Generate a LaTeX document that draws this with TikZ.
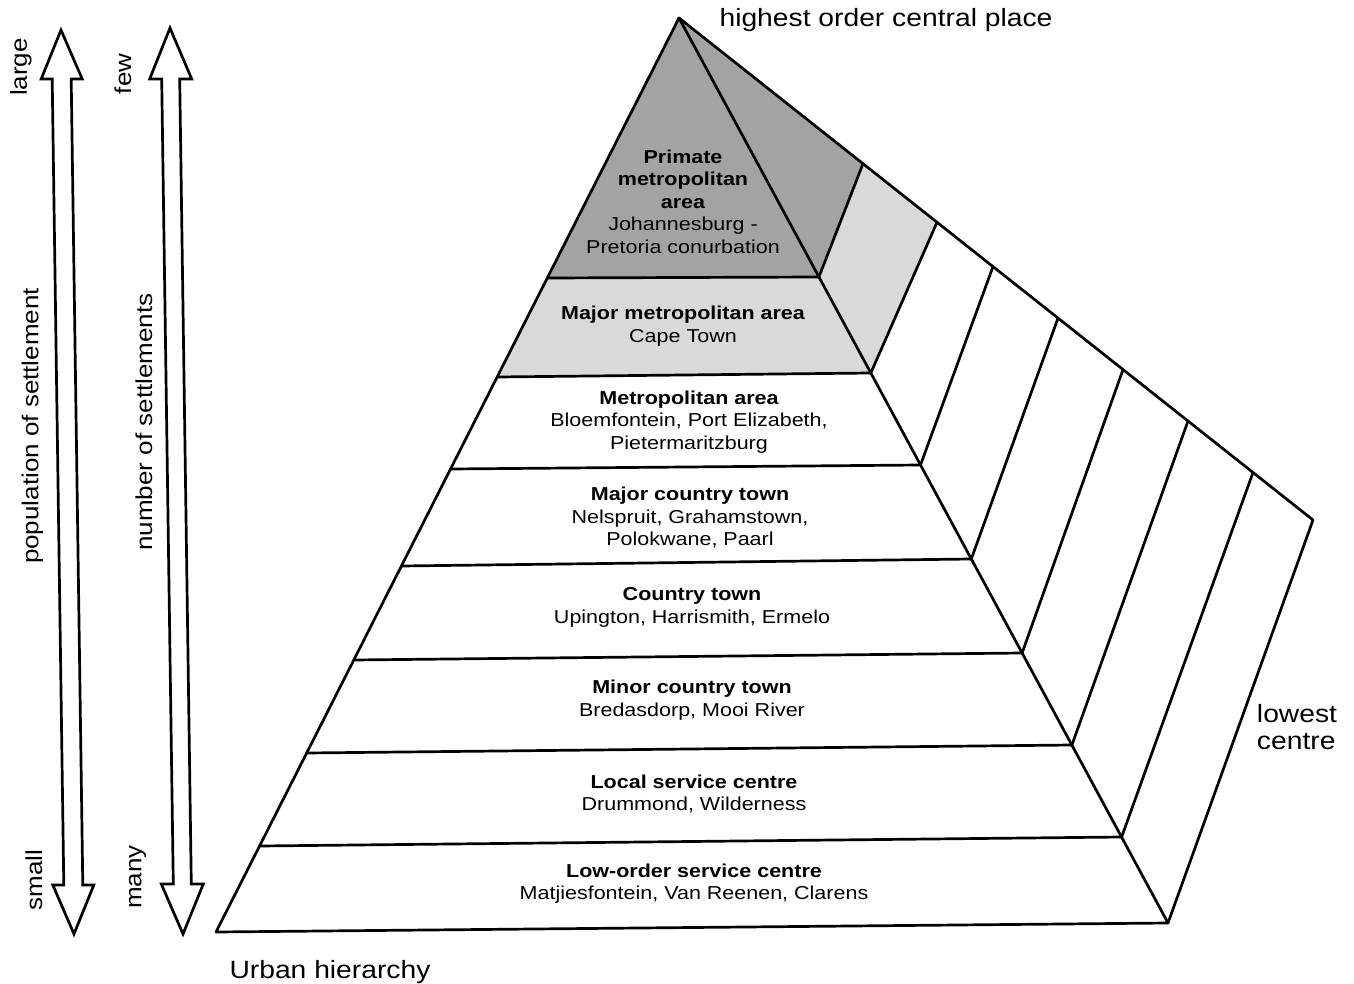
\documentclass[tikz,border=0pt]{standalone}
\usepackage{fontspec}
\setmainfont{Liberation Sans}
\newfontfamily\bandfont[FakeStretch=1.15]{Liberation Sans}
\newfontfamily\labfont[FakeStretch=1.13]{Liberation Sans}
\definecolor{darkfill}{gray}{0.64}
\definecolor{lightfill}{gray}{0.85}
\tikzset{
  edge/.style={line width=2.7pt, line join=round, line cap=round},
  bandtext/.style={align=center, inner sep=0pt, font=\bandfont\fontsize{18.7}{22.5}\selectfont},
  biglabel/.style={inner sep=0pt, font=\labfont\fontsize{25}{27}\selectfont},
  sidelabel/.style={inner sep=0pt, rotate=90, font=\labfont\fontsize{23}{25}\selectfont},
  blockarrow/.style={line width=2.7pt, line join=miter, fill=white}
}
\begin{document}
\begin{tikzpicture}[x=1pt,y=-1pt]
\useasboundingbox (0,0) rectangle (1354,984);
% main corners
\coordinate (A) at (679,18);
\coordinate (BL) at (216,932);
\coordinate (BR) at (1168,923);
\coordinate (BK) at (1313,520);
% left edge band points
\coordinate (L1) at (547.3,278);
\coordinate (L2) at (497.1,377);
\coordinate (L3) at (450.5,469);
\coordinate (L4) at (401.4,566);
\coordinate (L5) at (353.8,660);
\coordinate (L6) at (306.7,753);
\coordinate (L7) at (259.6,846);
% right front edge band points
\coordinate (R1) at (818.9,277);
\coordinate (R2) at (870.8,373);
\coordinate (R3) at (920.5,465);
\coordinate (R4) at (971.3,559);
\coordinate (R5) at (1022.1,653);
\coordinate (R6) at (1071.9,745);
\coordinate (R7) at (1121.6,837);
% top edge of right face
\coordinate (T1) at (863,163.7);
\coordinate (T2) at (937,222.3);
\coordinate (T3) at (993,266.6);
\coordinate (T4) at (1058,318.1);
\coordinate (T5) at (1123,369.6);
\coordinate (T6) at (1188,421);
\coordinate (T7) at (1253,472.5);

% shading
\fill[darkfill] (A) -- (L1) -- (R1) -- cycle;
\fill[darkfill] (A) -- (R1) -- (T1) -- cycle;
\fill[lightfill] (L1) -- (R1) -- (R2) -- (L2) -- cycle;
\fill[lightfill] (R1) -- (T1) -- (T2) -- (R2) -- cycle;

% outline
\draw[edge] (A) -- (BL) -- (BR) -- cycle;
\draw[edge] (A) -- (BK) -- (BR);
% band lines
\foreach \i in {1,...,7} {
  \draw[edge] (L\i) -- (R\i);
  \draw[edge] (R\i) -- (T\i);
}

% band texts
\node[bandtext] (primate) at (683,201.5) {\bfseries Primate\\\bfseries metropolitan\\\bfseries area\\Johannesburg -\\Pretoria conurbation};
\node[bandtext] (majormetro) at (683,326) {\bfseries Major metropolitan area\\Cape Town};
\node[bandtext] (metro) at (689,422) {\bfseries Metropolitan area\\Bloemfontein, Port Elizabeth,\\Pietermaritzburg};
\node[bandtext] (majorcountry) at (690,517.5) {\bfseries Major country town\\Nelspruit, Grahamstown,\\Polokwane, Paarl};
\node[bandtext] (country) at (692,607.5) {\bfseries Country town\\Upington, Harrismith, Ermelo};
\node[bandtext] (minor) at (692,700) {\bfseries Minor country town\\Bredasdorp, Mooi River};
\node[bandtext] (local) at (694,794) {\bfseries Local service centre\\Drummond, Wilderness};
\node[bandtext] (loworder) at (694,883.5) {\bfseries Low-order service centre\\Matjiesfontein, Van Reenen, Clarens};

% outer labels
\node[biglabel] (highest) at (886,20) {highest order central place};
\node[biglabel, align=left] (lowest) at (1297,727) {lowest\\centre};
\node[biglabel] (urban) at (330,972) {Urban hierarchy};

% block arrows
\draw[blockarrow] (61,30) -- (82.2,79) -- (71.2,79) -- (82.8,885) -- (93.8,885) -- (74,934)
  -- (52.8,885) -- (63.8,885) -- (52.2,79) -- (41.2,79) -- cycle;
\draw[blockarrow] (170,28) -- (191.7,79) -- (179.7,79) -- (191.3,884) -- (203.3,884) -- (183,934)
  -- (161.3,884) -- (173.3,884) -- (161.7,79) -- (149.7,79) -- cycle;

% side labels
\node[sidelabel] (large) at (21,67) {large};
\node[sidelabel] (population) at (32.5,426) {population of settlement};
\node[sidelabel] (small) at (34,880) {small};
\node[sidelabel] (few) at (123,74) {few};
\node[sidelabel] (number) at (144,422) {number of settlements};
\node[sidelabel] (many) at (137.5,877) {many};
\end{tikzpicture}
\end{document}
